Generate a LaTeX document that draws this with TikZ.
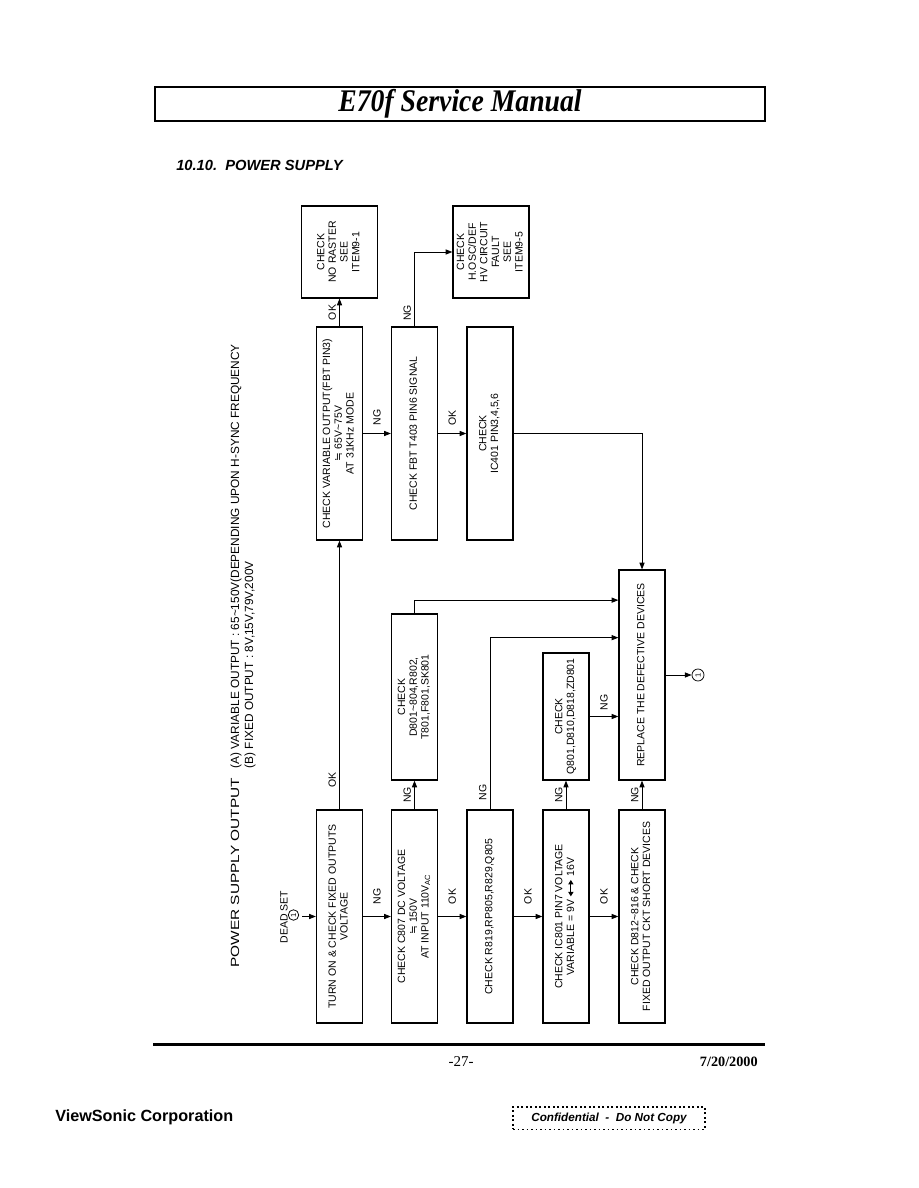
\documentclass[tikz,border=0pt]{standalone}
\usepackage{fontspec}
\setmainfont{Liberation Sans}
\newfontfamily\timesfont{Liberation Serif}
\newfontfamily\symfont{DejaVu Sans}
\usepackage{graphicx}
\usetikzlibrary{arrows.meta, positioning, calc}

\newcommand{\vtext}[1]{\rotatebox{90}{\begin{tabular}{@{}c@{}}#1\end{tabular}}}
\newcommand{\aeq}{{\symfont ≒}}
\newcommand{\lrar}{\tikz[baseline=-0.6ex]\draw[{Triangle[length=3pt,width=3.4pt]}-{Triangle[length=3pt,width=3.4pt]}, line width=0.7pt] (0,0) -- (11pt,0);}

\begin{document}
\begin{tikzpicture}[
	x=0.6667pt, y=-0.6667pt,
	>={Triangle[length=4.5pt,width=3.4pt]},
	chk/.style={rectangle, draw, line width=0.8pt, minimum width=30.7pt, minimum height=142pt, inner sep=0pt, font=\fontsize{7}{7.8}\selectfont},
	see/.style={chk, minimum width=50.7pt, minimum height=61.3pt},
	lbl/.style={inner sep=0pt, font=\fontsize{7}{8}\selectfont},
	endpt/.style={circle, draw, line width=0.5pt, inner sep=0pt, minimum size=7pt, font=\fontsize{5}{5}\selectfont},
	conn/.style={->, line width=0.6pt}
	]
	
	\useasboundingbox[fill=white] (0,0) rectangle (918,1188);
	
	% Page header
	\node[draw, line width=1.4pt, minimum width=406.7pt, minimum height=22.7pt, inner sep=0pt,
		font=\timesfont\bfseries\itshape\fontsize{21}{21}\selectfont] (hdr) at (460,104) {\scalebox{0.88}[1]{E70f Service Manual}};
	\node[anchor=west, font=\bfseries\itshape\fontsize{9.8}{10}\selectfont] (sec) at (171,165) {10.10.\ \ POWER SUPPLY};
	
	% Output notes
	\node[anchor=south west, inner sep=0pt, font=\fontsize{7.9}{9.3}\selectfont] (notes) at (229,968)
		{\rotatebox{90}{\begin{tabular}{@{}l@{}}\makebox[133pt][l]{\scalebox{1.3}[1]{POWER SUPPLY OUTPUT}}(A) VARIABLE OUTPUT : 65\textasciitilde150V(DEPENDING UPON H-SYNC FREQUENCY\\
		\hspace*{133pt}(B) FIXED OUTPUT : 8V,15V,79V,200V\end{tabular}}};
	
	% Bottom row
	\node[chk] (turn) at (339.5,916.5) {\vtext{TURN ON \& CHECK FIXED OUTPUTS\\VOLTAGE}};
	\node[chk] (c807) at (414.5,916.5) {\vtext{CHECK C807 DC VOLTAGE\\\aeq\ 150V\\AT INPUT 110V\textsubscript{AC}}};
	\node[chk] (r819) at (490,916.5) {\vtext{CHECK R819,RP805,R829,Q805}};
	\node[chk] (ic801) at (566,916.5) {\vtext{CHECK IC801 PIN7 VOLTAGE\\VARIABLE = 9V \lrar\ 16V}};
	\node[chk] (d812) at (642,916.5) {\vtext{CHECK D812\textasciitilde816 \& CHECK\\FIXED OUTPUT CKT SHORT DEVICES}};
	
	% Top row
	\node[chk] (var) at (339.5,433.5) {\vtext{CHECK VARIABLE OUTPUT(FBT PIN3)\\\aeq\ 65V\textasciitilde75V\\AT 31KHz MODE}};
	\node[chk] (fbt) at (414.5,433.5) {\vtext{CHECK FBT T403 PIN6 SIGNAL}};
	\node[chk] (ic401) at (490,433.5) {\vtext{CHECK\\IC401 PIN3,4,5,6}};
	\node[see] (noraster) at (339.5,252) {\vtext{CHECK\\NO RASTER\\SEE\\ITEM9-1}};
	\node[see] (hosc) at (491,252) {\vtext{CHECK\\H.OSC/DEF\\HV CIRCUIT\\FAULT\\SEE\\ITEM9-5}};
	
	% Middle boxes
	\node[chk, minimum height=110.7pt] (d801) at (414.5,697) {\vtext{CHECK\\D801\textasciitilde804,R802,\\T801,F801,SK801}};
	\node[chk, minimum height=84.7pt] (q801) at (566,716.5) {\vtext{CHECK\\Q801,D810,D818,ZD801}};
	\node[chk, minimum height=140pt] (replace) at (642,675) {\vtext{REPLACE THE DEFECTIVE DEVICES}};
	
	% Start / end marks
	\node[lbl] (dead) at (284,917) {\rotatebox{90}{DEAD SET}};
	\node[endpt] (start) at (293.5,915) {\rotatebox{90}{1}};
	\coordinate (deadin) at (302,916.5);
	\node[endpt, minimum size=8pt] (finish) at (698,675) {\rotatebox{90}{1}};
	
	% Connectors, bottom row
	\draw[conn] (deadin) -- (turn);
	\draw[conn] (turn) -- node[lbl, above=8pt] {\rotatebox{90}{NG}} (c807);
	\draw[conn] (c807) -- node[lbl, above=8pt] {\rotatebox{90}{OK}} (r819);
	\draw[conn] (r819) -- node[lbl, above=8pt] {\rotatebox{90}{OK}} (ic801);
	\draw[conn] (ic801) -- node[lbl, above=8pt] {\rotatebox{90}{OK}} (d812);
	
	% Connectors, going up
	\draw[conn] (turn) -- node[lbl, pos=0.11, left=2pt] {\rotatebox{90}{OK}} (var);
	\draw[conn] (c807) -- node[lbl, left=2pt] {\rotatebox{90}{NG}} (d801);
	\draw[conn] (r819.north) |- node[lbl, pos=0.05, left=2pt] {\rotatebox{90}{NG}} ([yshift=-45.5pt]replace.north west);
	\draw[conn] (ic801) -- node[lbl, left=2pt] {\rotatebox{90}{NG}} (q801);
	\draw[conn] (d812) -- node[lbl, left=2pt] {\rotatebox{90}{NG}} (replace);
	\draw[conn] (d801.north) |- ([yshift=-20.5pt]replace.north west);
	\draw[conn] (q801) -- node[lbl, above=4pt] {\rotatebox{90}{NG}} (q801 -| replace.west);
	\draw[conn] (replace) -- (finish);
	
	% Connectors, top row
	\draw[conn] (var) -- node[lbl, left=2pt] {\rotatebox{90}{OK}} (noraster);
	\draw[conn] (var) -- node[lbl, above=5pt] {\rotatebox{90}{NG}} (fbt);
	\draw[conn] (fbt) -- node[lbl, above=5pt] {\rotatebox{90}{OK}} (ic401);
	\draw[conn] (fbt.north) |- node[lbl, pos=0.09, left=2pt] {\rotatebox{90}{NG}} (hosc.west);
	\draw[conn] (ic401) -| (replace);
	
	% Page footer
	\draw[line width=2pt] (153,1044) -- (765,1044);
	\node[font=\timesfont\fontsize{10}{10}\selectfont] (page) at (461,1062) {-27-};
	\node[anchor=east, font=\timesfont\bfseries\fontsize{9.5}{10}\selectfont] (date) at (763,1062) {7/20/2000};
	\node[anchor=west, font=\bfseries\fontsize{10.8}{11}\selectfont] (corp) at (50,1117) {ViewSonic Corporation};
	\node[draw, line width=0.7pt, dash pattern=on 1.2pt off 1.8pt, minimum width=128pt, minimum height=14.7pt, inner sep=0pt,
		font=\bfseries\itshape\fontsize{7.8}{8}\selectfont] (conf) at (609,1118) {Confidential\ \ -\ \ Do Not Copy};
	
\end{tikzpicture}
\end{document}
